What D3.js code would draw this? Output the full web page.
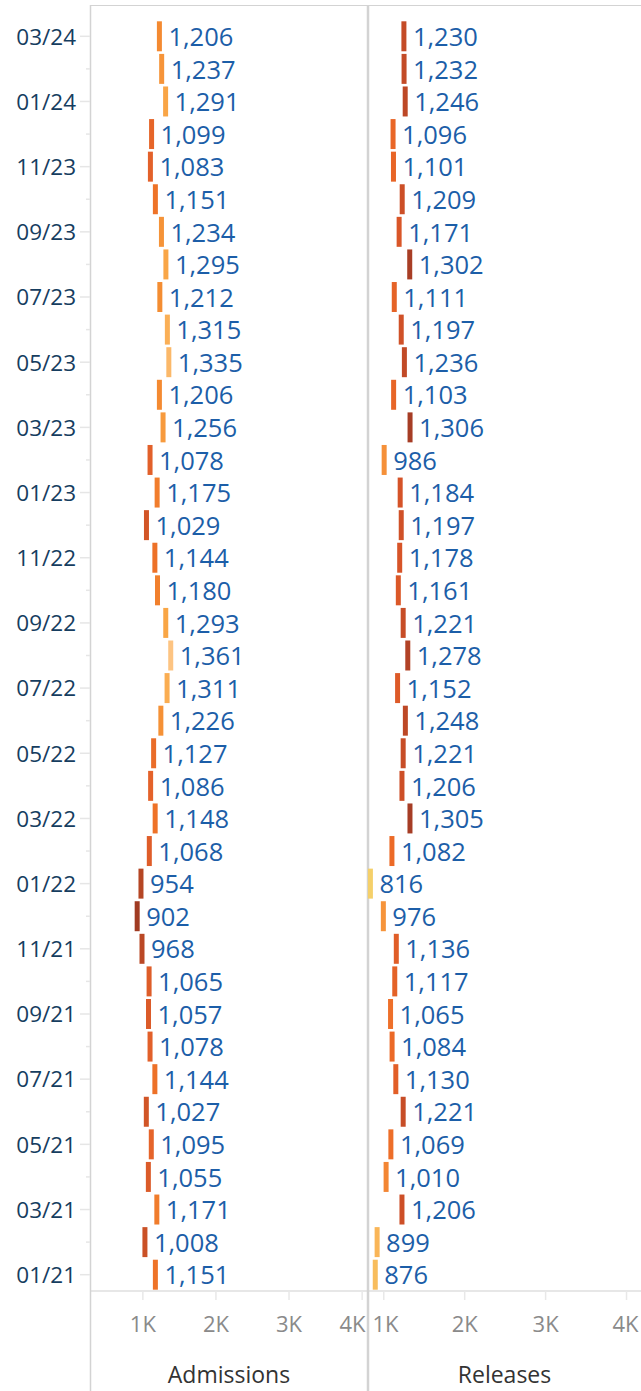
<!DOCTYPE html>
<html>
<head>
<meta charset="utf-8">
<script src="https://cdnjs.cloudflare.com/ajax/libs/d3/7.8.5/d3.min.js"></script>
<style>
  html, body { margin: 0; padding: 0; background: #fff; }
  svg { display: block; }
  svg text { font-family: "Open Sans", "Noto Sans", sans-serif; }
</style>
</head>
<body>
<svg id="chart" width="641" height="1391"></svg>
<script>
// months, oldest first
var months = [
  "01/21","02/21","03/21","04/21","05/21","06/21","07/21","08/21","09/21","10/21","11/21","12/21",
  "01/22","02/22","03/22","04/22","05/22","06/22","07/22","08/22","09/22","10/22","11/22","12/22",
  "01/23","02/23","03/23","04/23","05/23","06/23","07/23","08/23","09/23","10/23","11/23","12/23",
  "01/24","02/24","03/24"
];
var admissions = [
  1151,1008,1171,1055,1095,1027,1144,1078,1057,1065,968,902,
  954,1068,1148,1086,1127,1226,1311,1361,1293,1180,1144,1029,
  1175,1078,1256,1206,1335,1315,1212,1295,1234,1151,1083,1099,
  1291,1237,1206
];
var releases = [
  876,899,1206,1010,1069,1221,1130,1084,1065,1117,1136,976,
  816,1082,1305,1206,1221,1248,1152,1278,1221,1161,1178,1197,
  1184,986,1306,1103,1236,1197,1111,1302,1171,1209,1101,1096,
  1246,1232,1230
];
var tickValues = [1000, 2000, 3000, 4000];
var panelTitles = ["Admissions", "Releases"];

var W = 641, H = 1391;
var left = 90, mid = 368, axisY = 1291;

var svg = d3.select("#chart");

// rows, latest on top
var y = d3.scaleBand()
  .domain(months.slice().reverse())
  .range([20, axisY])
  .paddingInner(0.08)
  .paddingOuter(0.04);

var panels = [
  {
    title: panelTitles[0],
    data: months.map((m, i) => ({ m: m, v: admissions[i] })),
    x: d3.scaleLinear().domain([284, 4087]).range([left, mid]),
    color: d3.scaleLinear()
      .domain([902, 1020, 1080, 1150, 1210, 1300, 1361])
      .range(["#a03b22", "#cf5327", "#e3602a", "#ee7328", "#f48c32", "#f9a848", "#fdc482"])
  },
  {
    title: panelTitles[1],
    data: months.map((m, i) => ({ m: m, v: releases[i] })),
    x: d3.scaleLinear().domain([811, 4185]).range([mid, W]),
    color: d3.scaleLinear()
      .domain([816, 890, 980, 1080, 1180, 1306])
      .range(["#f5d06a", "#f9b95a", "#f6923a", "#ec6a27", "#d75428", "#a63d25"])
  }
];

// frame lines
svg.append("line").attr("x1", left).attr("x2", W).attr("y1", 5.5).attr("y2", 5.5)
  .attr("stroke", "#d3d3d3").attr("stroke-width", 1.2);
svg.append("line").attr("x1", left).attr("x2", W).attr("y1", axisY).attr("y2", axisY)
  .attr("stroke", "#cfcfcf").attr("stroke-width", 1.2);
svg.append("line").attr("x1", left + 0.5).attr("x2", left + 0.5).attr("y1", 5).attr("y2", H)
  .attr("stroke", "#d3d3d3").attr("stroke-width", 1.5);
svg.append("line").attr("x1", mid).attr("x2", mid).attr("y1", 5).attr("y2", H)
  .attr("stroke", "#d3d3d3").attr("stroke-width", 2.5);

// Y axis (label every other month)
var yAxis = svg.append("g")
  .attr("transform", `translate(${left},0)`)
  .call(d3.axisLeft(y)
    .tickSize(10)
    .tickPadding(4)
    .tickFormat(d => (+d.slice(0, 2)) % 2 === 1 ? d : ""));
yAxis.select(".domain").remove();
yAxis.selectAll(".tick line")
  .attr("stroke", "#e6e6e6")
  .attr("stroke-width", 1.5)
  .attr("x2", d => (+d.slice(0, 2)) % 2 === 1 ? -10 : -4);
yAxis.selectAll(".tick text")
  .style("font-size", "22.5px")
  .attr("fill", "#163d5f")
  .attr("dy", "0.37em");

panels.forEach(function (p) {
  var x = p.x;
  var x0 = x.range()[0], x1 = x.range()[1];

  // bars
  svg.append("g")
    .selectAll("rect")
    .data(p.data)
    .enter()
    .append("rect")
      .attr("x", d => x(d.v) - 0.5)
      .attr("y", d => y(d.m))
      .attr("width", 5)
      .attr("height", y.bandwidth())
      .attr("fill", d => p.color(d.v));

  // value labels
  svg.append("g")
    .selectAll("text")
    .data(p.data)
    .enter()
    .append("text")
      .attr("x", d => x(d.v) + 11)
      .attr("y", d => y(d.m) + y.bandwidth() / 2 + 0.5)
      .attr("dy", "0.36em")
      .style("font-size", "25.5px")
      .attr("fill", "#1c5ea8")
      .text(d => d3.format(",")(d.v));

  // X axis
  var xAxis = svg.append("g")
    .attr("transform", `translate(0,${axisY})`)
    .call(d3.axisBottom(x)
      .tickValues(tickValues)
      .tickSize(9)
      .tickFormat(d => d / 1000 + "K"));
  xAxis.select(".domain").remove();
  xAxis.selectAll(".tick line").attr("stroke", "#e8e8e8").attr("stroke-width", 1.5);
  xAxis.selectAll(".tick text")
    .style("font-size", "22px")
    .attr("fill", "#8a8a8a")
    .attr("y", 41)
    .attr("dy", null)
    .each(function (d) {
      // keep edge labels inside the panel
      var t = d3.select(this);
      var w = this.getComputedTextLength();
      var cx = x(d);
      if (cx - w / 2 < x0 + 4) t.attr("x", x0 + 4 + w / 2 - cx);
      if (cx + w / 2 > x1 - 3) t.attr("x", x1 - 3 - w / 2 - cx);
    });

  // panel title
  svg.append("text")
    .attr("x", (x0 + x1) / 2)
    .attr("y", 1383)
    .attr("text-anchor", "middle")
    .style("font-size", "23px")
    .attr("fill", "#333")
    .text(p.title);
});
</script>
</body>
</html>
